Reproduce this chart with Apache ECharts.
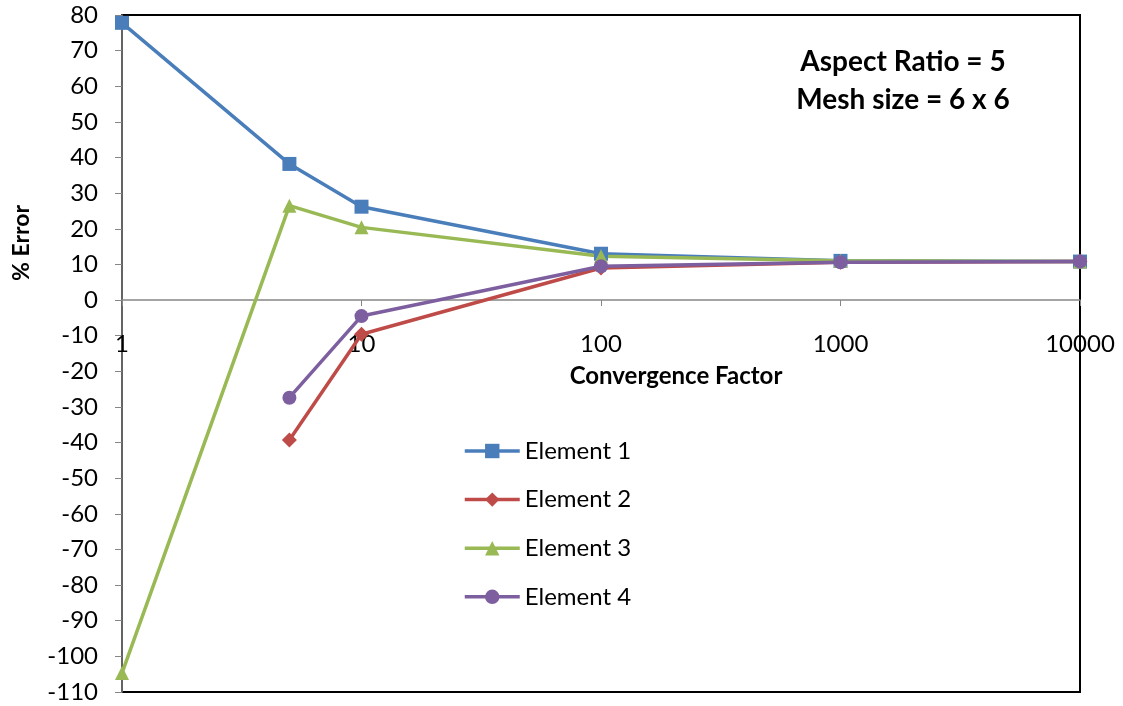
<!DOCTYPE html>
<html>
<head>
<meta charset="utf-8">
<script src="https://cdn.jsdelivr.net/npm/echarts@6/dist/echarts.min.js"></script>
<style>html,body{margin:0;padding:0;background:#fff}#c{width:1123px;height:706px}</style>
</head>
<body>
<div id="c"></div>
<script>
var xValues = [1, 5, 10, 100, 1000, 10000];
var element1 = [77.8, 38.2, 26.2, 13.0, 11.0, 10.8];
var element2 = [null, -39.3, -9.6, 9.0, 10.6, 10.8];
var element3 = [-104.7, 26.5, 20.4, 12.3, 11.0, 10.8];
var element4 = [null, -27.4, -4.5, 9.5, 10.6, 10.8];
var seriesNames = ['Element 1', 'Element 2', 'Element 3', 'Element 4'];
var colors = ['#4A7EBB', '#BE4B48', '#98B954', '#7D5FA0'];
var symbols = ['rect', 'diamond', 'triangle', 'circle'];
var FONT = 'Lato';

function pairs(vals) {
  var out = [];
  for (var i = 0; i < xValues.length; i++) {
    if (vals[i] !== null) out.push([xValues[i], vals[i]]);
  }
  return out;
}
var allVals = [element1, element2, element3, element4];
var series = allVals.map(function (v, i) {
  return {
    name: seriesNames[i],
    type: 'line',
    data: pairs(v),
    symbol: symbols[i],
    symbolSize: i === 1 ? 15 : 14,
    showSymbol: true,
    clip: false,
    lineStyle: { color: colors[i], width: 3.5 },
    itemStyle: { color: colors[i] },
    animation: false
  };
});

var chart = echarts.init(document.getElementById('c'));
chart.setOption({
  animation: false,
  grid: { left: 122, right: 43, top: 15, bottom: 14, outerBoundsMode: 'none', containLabel: false, show: true, borderColor: '#000', borderWidth: 2, backgroundColor: 'transparent' },
  legend: {
    orient: 'vertical', left: 458, top: 434, itemWidth: 55, itemHeight: 18, itemGap: 24.6,
    lineStyle: { width: 3.5 },
    textStyle: { fontFamily: FONT, fontSize: 24, color: '#000' },
    data: seriesNames
  },
  xAxis: {
    type: 'log', logBase: 10, min: 1, max: 10000,
    axisLine: { onZero: true, lineStyle: { color: '#868686', width: 1.5 } },
    axisTick: { show: true, length: 6, lineStyle: { color: '#868686' } },
    minorTick: { show: false },
    splitLine: { show: false },
    axisLabel: { margin: -360, verticalAlign: 'top', fontFamily: FONT, fontSize: 24, color: '#000', formatter: function (v) { return String(v); } }
  },
  yAxis: {
    type: 'value', min: -110, max: 80, interval: 10,
    axisLine: { show: true, lineStyle: { color: '#868686', width: 1.5 } },
    axisTick: { show: true, length: 7, lineStyle: { color: '#868686' } },
    splitLine: { show: false },
    axisLabel: { margin: 24, fontFamily: FONT, fontSize: 24, color: '#000' }
  },
  graphic: [
    { type: 'text', position: [676, 376], style: { text: 'Convergence Factor', fontFamily: FONT, fontSize: 24, fontWeight: 'bold', fill: '#000', textAlign: 'center', textVerticalAlign: 'middle' } },
    { type: 'text', position: [22, 243], rotation: Math.PI / 2, style: { text: '% Error', fontFamily: FONT, fontSize: 23, fontWeight: 'bold', fill: '#000', textAlign: 'center', textVerticalAlign: 'middle' } },
    { type: 'text', position: [903, 62], style: { text: 'Aspect Ratio = 5', fontFamily: FONT, fontSize: 28, fontWeight: 'bold', fill: '#000', textAlign: 'center', textVerticalAlign: 'middle' } },
    { type: 'text', position: [903, 100], style: { text: 'Mesh size = 6 x 6', fontFamily: FONT, fontSize: 28, fontWeight: 'bold', fill: '#000', textAlign: 'center', textVerticalAlign: 'middle' } }
  ],
  series: series
});
</script>
</body>
</html>
